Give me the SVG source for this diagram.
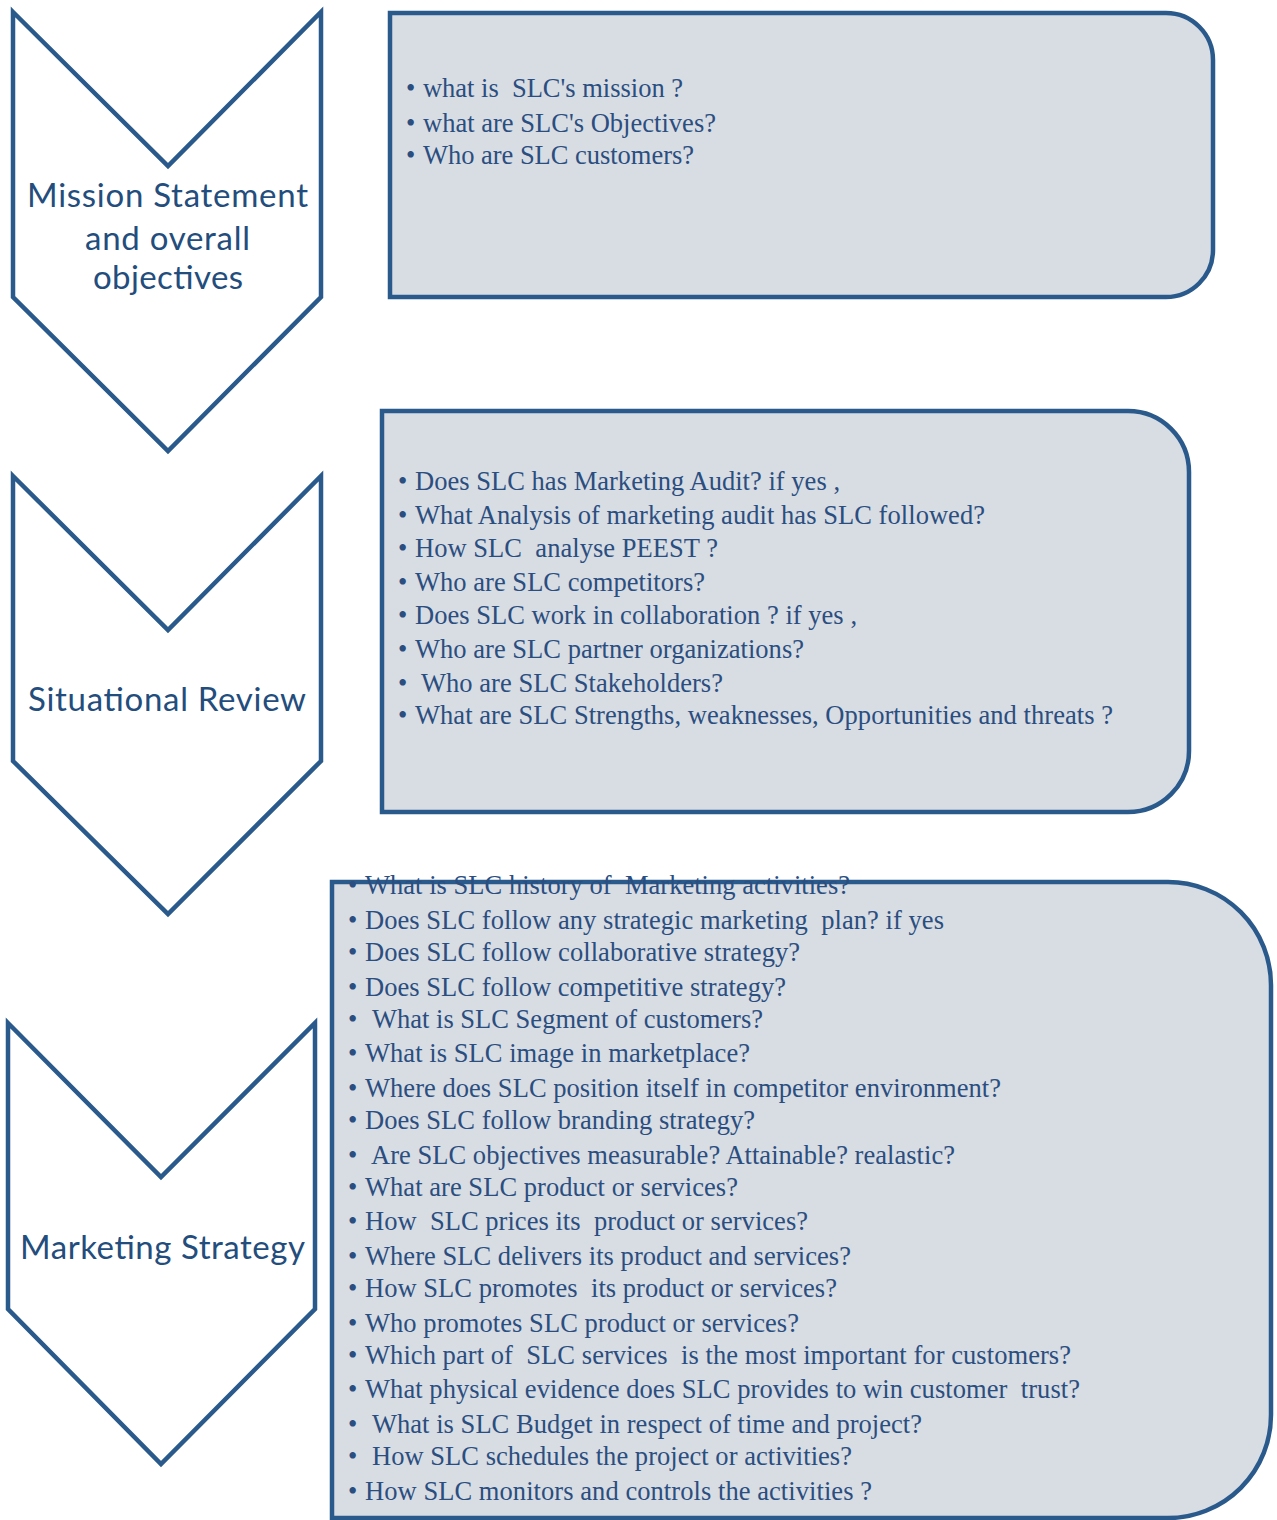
<svg xmlns="http://www.w3.org/2000/svg" width="1277" height="1520" viewBox="0 0 1277 1520">
  <style>
    .chev { fill: #ffffff; stroke: #2a5a8b; stroke-width: 4.5; stroke-linejoin: miter; }
    .box { fill: #d8dce3; stroke: #2a5a8b; stroke-width: 4.5; }
    .label { font-family: Lato, "Open Sans", "Liberation Sans", sans-serif; font-size: 33px; fill: #234d7c; text-anchor: middle; }
    .q { font-family: "Liberation Serif", "Times New Roman", serif; font-size: 26.5px; fill: #2a4e7f; white-space: pre; }
  </style>
  <rect width="1277" height="1520" fill="#ffffff"/>

  <!-- stage chevrons -->
  <g id="stage-mission">
    <polygon class="chev" points="13,12 168,166 321,12 321,297 168,451 13,297"/>
    <text class="label" x="167.5" y="207" textLength="281">Mission Statement</text>
    <text class="label" x="167.5" y="250" textLength="165">and overall</text>
    <text class="label" x="168" y="289" textLength="150">objectives</text>
  </g>
  <g id="stage-situational">
    <polygon class="chev" points="13,476 168,630 321,476 321,761 168,914 13,761"/>
    <text class="label" x="167" y="711" textLength="278">Situational Review</text>
  </g>
  <g id="stage-strategy">
    <polygon class="chev" points="8,1023 161,1177 315,1023 315,1309 161,1464 8,1309"/>
    <text class="label" x="162.5" y="1259" textLength="285">Marketing Strategy</text>
  </g>

  <!-- question boxes (rounded on the right side only) -->
  <g id="questions-mission">
    <path class="box" d="M390,13 H1166 A47,47 0 0 1 1213,60 V250 A47,47 0 0 1 1166,297 H390 Z"/>
    <text class="q" x="406" y="97">•</text><text class="q" x="423" y="97" textLength="260">what is  SLC's mission ?</text>
    <text class="q" x="406" y="132">•</text><text class="q" x="423" y="132" textLength="293">what are SLC's Objectives?</text>
    <text class="q" x="406" y="164">•</text><text class="q" x="423" y="164" textLength="271">Who are SLC customers?</text>
  </g>

  <g id="questions-situational">
    <path class="box" d="M382,411 H1128 A61,61 0 0 1 1189,472 V751 A61,61 0 0 1 1128,812 H382 Z"/>
    <text class="q" x="398" y="490">•</text><text class="q" x="415" y="490" textLength="425">Does SLC has Marketing Audit? if yes ,</text>
    <text class="q" x="398" y="524">•</text><text class="q" x="415" y="524" textLength="570">What Analysis of marketing audit has SLC followed?</text>
    <text class="q" x="398" y="557">•</text><text class="q" x="415" y="557" textLength="303">How SLC  analyse PEEST ?</text>
    <text class="q" x="398" y="591">•</text><text class="q" x="415" y="591" textLength="290">Who are SLC competitors?</text>
    <text class="q" x="398" y="624">•</text><text class="q" x="415" y="624" textLength="442">Does SLC work in collaboration ? if yes ,</text>
    <text class="q" x="398" y="658">•</text><text class="q" x="415" y="658" textLength="389">Who are SLC partner organizations?</text>
    <text class="q" x="398" y="692">•</text><text class="q" x="421" y="692" textLength="302">Who are SLC Stakeholders?</text>
    <text class="q" x="398" y="724">•</text><text class="q" x="415" y="724" textLength="698">What are SLC Strengths, weaknesses, Opportunities and threats ?</text>
  </g>

  <g id="questions-strategy">
    <path class="box" d="M332,882 H1168 A103,103 0 0 1 1271,985 V1415 A103,103 0 0 1 1168,1518 H332 Z"/>
    <text class="q" x="348" y="894">•</text><text class="q" x="365" y="894" textLength="485">What is SLC history of  Marketing activities?</text>
    <text class="q" x="348" y="929">•</text><text class="q" x="365" y="929" textLength="579">Does SLC follow any strategic marketing  plan? if yes</text>
    <text class="q" x="348" y="961">•</text><text class="q" x="365" y="961" textLength="435">Does SLC follow collaborative strategy?</text>
    <text class="q" x="348" y="996">•</text><text class="q" x="365" y="996" textLength="421">Does SLC follow competitive strategy?</text>
    <text class="q" x="348" y="1028">•</text><text class="q" x="372" y="1028" textLength="391">What is SLC Segment of customers?</text>
    <text class="q" x="348" y="1062">•</text><text class="q" x="365" y="1062" textLength="385">What is SLC image in marketplace?</text>
    <text class="q" x="348" y="1097">•</text><text class="q" x="365" y="1097" textLength="636">Where does SLC position itself in competitor environment?</text>
    <text class="q" x="348" y="1129">•</text><text class="q" x="365" y="1129" textLength="390">Does SLC follow branding strategy?</text>
    <text class="q" x="348" y="1164">•</text><text class="q" x="371" y="1164" textLength="584">Are SLC objectives measurable? Attainable? realastic?</text>
    <text class="q" x="348" y="1196">•</text><text class="q" x="365" y="1196" textLength="373">What are SLC product or services?</text>
    <text class="q" x="348" y="1230">•</text><text class="q" x="365" y="1230" textLength="443">How  SLC prices its  product or services?</text>
    <text class="q" x="348" y="1265">•</text><text class="q" x="365" y="1265" textLength="486">Where SLC delivers its product and services?</text>
    <text class="q" x="348" y="1297">•</text><text class="q" x="365" y="1297" textLength="472">How SLC promotes  its product or services?</text>
    <text class="q" x="348" y="1332">•</text><text class="q" x="365" y="1332" textLength="434">Who promotes SLC product or services?</text>
    <text class="q" x="348" y="1364">•</text><text class="q" x="365" y="1364" textLength="706">Which part of  SLC services  is the most important for customers?</text>
    <text class="q" x="348" y="1398">•</text><text class="q" x="365" y="1398" textLength="715">What physical evidence does SLC provides to win customer  trust?</text>
    <text class="q" x="348" y="1433">•</text><text class="q" x="372" y="1433" textLength="550">What is SLC Budget in respect of time and project?</text>
    <text class="q" x="348" y="1465">•</text><text class="q" x="372" y="1465" textLength="480">How SLC schedules the project or activities?</text>
    <text class="q" x="348" y="1500">•</text><text class="q" x="365" y="1500" textLength="507">How SLC monitors and controls the activities ?</text>
  </g>

  <!-- no connectors: stages are stacked chevrons -->
  <g id="connectors"></g>
</svg>
